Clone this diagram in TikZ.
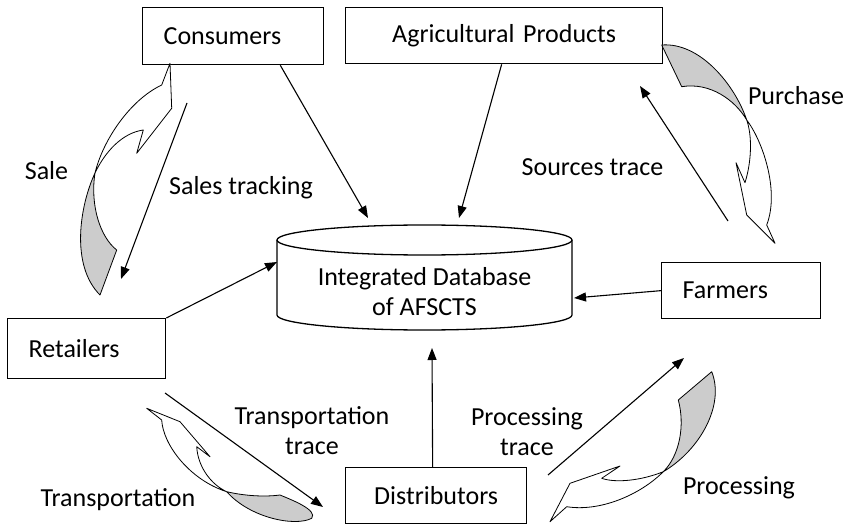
\documentclass[tikz,border=0pt]{standalone}
\usepackage{fontspec}
\setmainfont{Carlito}
\usepackage{tikz}
\usetikzlibrary{arrows.meta}

\begin{document}
\begin{tikzpicture}[x=1pt, y=-1pt,
    every node/.style={font=\fontsize{26}{30}\selectfont},
    box/.style={draw, line width=1.3pt, inner xsep=21pt, inner ysep=0pt, anchor=north west, align=left},
    link/.style={line width=1.1pt, -{Triangle[length=12pt, width=9pt]}},
    ribbon/.style={draw, line width=0.8pt, line join=round, fill=white},
    ribbonback/.style={ribbon, fill=gray!40}]
\useasboundingbox (0,0) rectangle (848,529);

% boxes round the database
\node[box, text width=139pt, minimum height=57pt] (consumers) at (142,7) {Consumers};
\node[box, text width=275pt, minimum height=56pt, align=center] (agri) at (345,7) {Agricultural Products};
\node[box, text width=116pt, minimum height=60pt] (retailers) at (7,318) {Retailers};
\node[box, text width=117pt, minimum height=56pt] (farmers) at (661,262) {Farmers};
\node[box, text width=139pt, minimum height=56pt, align=center] (distrib) at (345,467) {Distributors};

% database
\draw[line width=1.3pt, fill=white] (277,240) -- (277,315) arc[start angle=180, end angle=0, x radius=147.5, y radius=15] -- (572,240);
\draw[line width=1.3pt] (424.5,240) ellipse [x radius=147.5, y radius=15];
\node[align=center] (db) at (424.5,292) {Integrated Database\\of AFSCTS};

\coordinate (dbn1) at (368,218);
\coordinate (dbn2) at (459,218);
\coordinate (dbw) at (277,262);
\coordinate (dbe) at (574,298);
\coordinate (dbs) at (432,348);

\draw[link] ([xshift=-44pt]consumers.south east) -- (dbn1);
\draw[link] ([xshift=-2.5pt]agri.south) -- (dbn2);
\draw[link] (retailers.north east) -- (dbw);
\draw[link] (farmers.west) -- (dbe);
\draw[link] ([xshift=-3.5pt]distrib.north) -- (dbs);

% trace arrows
\coordinate (st1) at (187,103);
\coordinate (st2) at (121,279);
\coordinate (sr1) at (728,221);
\coordinate (sr2) at (640,86);
\coordinate (tt1) at (165,393);
\coordinate (tt2) at (323,507);
\coordinate (pt1) at (548,475);
\coordinate (pt2) at (684,358);
\draw[link] (st1) -- (st2);
\draw[link] (sr1) -- (sr2);
\draw[link] (tt1) -- (tt2);
\draw[link] (pt1) -- (pt2);

% curved block arrows
% sale
\draw[ribbonback] (95,173) .. controls (80,205) and (70,265) .. (100,295) -- (116.7,250) .. controls (100,237) and (90,205) .. cycle;
\draw[ribbon] (161.7,85) .. controls (130,100) and (103,140) .. (95,173) .. controls (105,152) and (122,133) .. (143.3,130) -- (136.7,153.3) -- (171.7,108.3) -- (170,63.3) -- cycle;
% purchase
\draw[ribbonback] (661.7,45) .. controls (700,42) and (735,85) .. (746.7,120) .. controls (735,100) and (710,82) .. (681.7,86.7) -- cycle;
\draw[ribbon] (746.7,120) .. controls (762,140) and (780,190) .. (766.7,225) -- (775,243.3) -- (746.7,215) -- (736,162.7) -- (745,182.7) .. controls (752,160) and (752,135) .. cycle;
% transportation
\draw[ribbon] (146.7,408.3) -- (161.7,420) .. controls (163,445) and (190,480) .. (226.7,491.7) .. controls (212,485) and (198,468) .. (196.7,446.7) -- (210,456.7) -- (180,421.7) -- cycle;
\draw[ribbonback] (226.7,491.7) .. controls (245,496) and (265,497) .. (280,495) .. controls (292,500) and (318,510) .. (311.7,518.3) .. controls (295,527) and (250,518) .. cycle;
% processing
\draw[ribbon] (550,521.7) -- (566.7,506.7) .. controls (600,512) and (640,495) .. (663.3,471.7) .. controls (640,481) and (615,483) .. (601.7,478.3) -- (620,466) -- (570,483.3) -- cycle;
\draw[ribbonback] (663.3,471.7) .. controls (700,450) and (725,405) .. (711.7,371.7) -- (678.3,400) .. controls (685,425) and (680,455) .. cycle;

% labels
\node[anchor=base] (salelbl) at (46.5,180) {Sale};
\node[anchor=base] (stlbl) at (241,195) {Sales tracking};
\node[anchor=base] (srlbl) at (592.5,176) {Sources trace};
\node[anchor=base] (purlbl) at (796,105) {Purchase};
\node[anchor=base] (translbl) at (118,506) {Transportation};
\node[anchor=base] (proclbl) at (739,494) {Processing};
\node[anchor=base, align=center] (ttlbl) at (312,454) {Transportation\\trace};
\node[anchor=base, align=center] (ptlbl) at (527,455) {Processing\\trace};
\end{tikzpicture}
\end{document}
